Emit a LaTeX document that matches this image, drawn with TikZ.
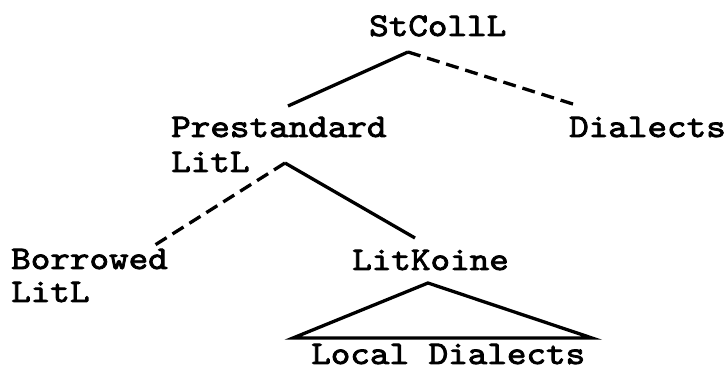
\documentclass[tikz,border=0pt]{standalone}
\usepackage{fontspec}
% Typewriter face for all labels, widened and thickened a little
\newfontfamily\typewriter[FakeStretch=1.13,FakeBold=2.5]{lmmono10-regular.otf}
\begin{document}
\begin{tikzpicture}[x=1pt,y=-1pt,
  lbl/.style={inner sep=0pt, anchor=base west,
    font=\typewriter\fontsize{33}{34}\selectfont},
  branch/.style={line width=3.3pt},
  dashbranch/.style={line width=3.3pt, dash pattern=on 13pt off 7pt}]
\useasboundingbox (0,0) rectangle (726,371);

% labels
\node[lbl] (stcoll)    at (369,36)  {StCollL};
\node[lbl] (prest)     at (171,137) {Prestandard};
\node[lbl] (prestlit)  at (171,172) {LitL};
\node[lbl] (dial)      at (569,137) {Dialects};
\node[lbl] (borrow)    at (11,269)  {Borrowed};
\node[lbl] (borrowlit) at (11,302)  {LitL};
\node[lbl] (koine)     at (352,270) {LitKoine};
\node[lbl] (local)     at (311,364) {Local Dialects};

% branching points and branch ends
\coordinate (stcollfork) at (408,52);
\coordinate (prestfork)  at (285,163);
\coordinate (koinefork)  at (428,283);
\coordinate (prestend)   at (288,106);
\coordinate (dialend)    at (576,105);
\coordinate (borrowend)  at (155,245);
\coordinate (koineend)   at (415,238);
\coordinate (localleft)  at (293,338);
\coordinate (localright) at (592,338);

% tree branches
\draw[branch]     (stcollfork) -- (prestend);
\draw[dashbranch] (stcollfork) -- (dialend);
\draw[dashbranch] (prestfork) -- (borrowend);
\draw[branch]     (prestfork) -- (koineend);
\draw[branch]     (koinefork) -- (localleft) -- (localright) -- cycle;
\end{tikzpicture}
\end{document}
